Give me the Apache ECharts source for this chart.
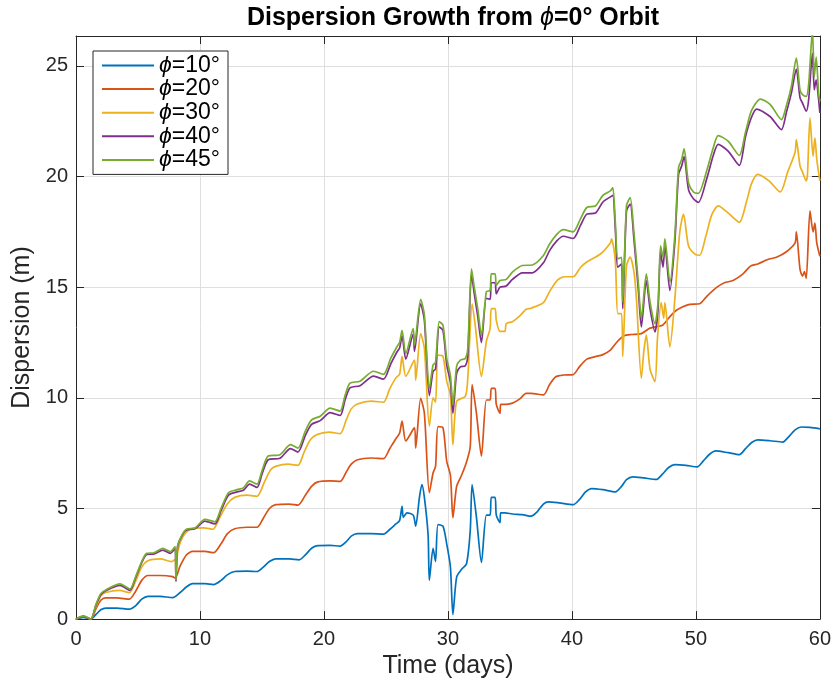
<!DOCTYPE html>
<html>
<head>
<meta charset="utf-8">
<script src="https://cdn.jsdelivr.net/npm/echarts@6/dist/echarts.min.js"></script>
<style>
html,body{margin:0;padding:0;background:#fff;}
#chart{width:834px;height:684px;}
</style>
</head>
<body>
<div id="chart"></div>
<script>
const titleText = 'Dispersion Growth from ϕ=0° Orbit';
const xName = 'Time (days)';
const yName = 'Dispersion (m)';
const seriesNames = ['ϕ=10°', 'ϕ=20°', 'ϕ=30°', 'ϕ=40°', 'ϕ=45°'];
const seriesColors = ['#0072BD', '#D95319', '#EDB120', '#7E2F8E', '#77AC30'];

const phi10 = [[0,0],[0.6,0.08],[1.2,0],[1.6,0.2],[2.0,0.42],[2.4,0.5],[3.3,0.5],[4.3,0.45],[4.8,0.6],[5.3,0.9],[5.8,1.03],[6.8,1.03],[7.8,0.97],[8.4,1.2],[8.9,1.45],[9.4,1.6],[10.4,1.6],[11.1,1.56],[11.7,1.75],[12.2,2.0],[12.8,2.15],[13.8,2.17],[14.6,2.15],[15.1,2.35],[15.6,2.6],[16.1,2.72],[17.2,2.72],[18.0,2.68],[18.5,2.9],[19.0,3.2],[19.5,3.32],[20.5,3.33],[21.3,3.3],[21.8,3.5],[22.2,3.75],[22.7,3.86],[23.8,3.86],[24.8,3.84],[25.3,4.05],[25.8,4.3],[26.1,4.45],[26.3,5.1],[26.4,4.6],[26.7,4.8],[27.2,4.7],[27.4,4.2],[27.7,5.5],[27.9,6.08],[28.1,5.5],[28.4,3.8],[28.5,1.75],[28.8,3.2],[29.0,2.6],[29.2,4.27],[29.6,4.2],[29.9,3.4],[30.2,2.35],[30.4,0.2],[30.7,1.9],[31.1,2.25],[31.5,2.5],[31.8,4.0],[31.95,6.08],[32.3,4.6],[32.7,2.56],[33.1,4.7],[33.4,4.7],[33.5,5.5],[33.8,5.5],[33.9,4.7],[34.2,4.36],[34.25,4.8],[34.6,4.8],[35.2,4.75],[36.0,4.72],[36.7,4.65],[37.2,4.85],[37.7,5.2],[38.1,5.3],[39.0,5.25],[40.1,5.17],[40.6,5.4],[41.1,5.75],[41.6,5.9],[42.5,5.85],[43.5,5.75],[44.0,6.0],[44.4,6.3],[44.9,6.43],[45.8,6.38],[46.8,6.31],[47.3,6.55],[47.8,6.85],[48.3,6.98],[49.2,6.95],[50.1,6.88],[50.6,7.15],[51.1,7.45],[51.6,7.6],[52.6,7.52],[53.5,7.43],[54.0,7.7],[54.5,7.98],[55.0,8.1],[56.0,8.06],[57.0,8.0],[57.5,8.25],[58.0,8.55],[58.5,8.68],[59.2,8.66],[60,8.6]];

const phi20 = [[0,0],[0.6,0.12],[1.2,0],[1.6,0.45],[2.0,0.85],[2.4,0.96],[3.3,0.96],[4.3,0.9],[4.8,1.25],[5.3,1.75],[5.8,1.97],[6.8,1.97],[7.8,1.92],[8.0,1.85],[8.4,2.4],[8.9,2.9],[9.4,3.06],[10.4,3.06],[11.1,3.0],[11.7,3.4],[12.2,3.85],[12.8,4.08],[13.8,4.15],[14.6,4.15],[15.1,4.55],[15.6,5.0],[16.1,5.17],[17.2,5.2],[17.9,5.15],[18.5,5.6],[19.0,6.0],[19.5,6.2],[20.5,6.25],[21.3,6.22],[21.8,6.65],[22.2,7.0],[22.7,7.2],[23.8,7.28],[24.8,7.25],[25.3,7.7],[25.8,8.15],[26.1,8.4],[26.3,8.95],[26.6,8.05],[27.3,8.65],[27.4,7.73],[27.8,9.98],[28.1,9.3],[28.5,5.71],[28.8,6.6],[29.0,6.9],[29.2,8.7],[29.6,8.65],[29.9,7.14],[30.2,6.5],[30.4,4.58],[30.7,6.0],[31.1,6.5],[31.5,7.1],[31.8,7.8],[31.95,10.6],[32.3,9.3],[32.7,7.36],[33.1,9.9],[33.4,9.9],[33.5,10.43],[33.8,10.43],[33.9,9.7],[34.2,9.3],[34.25,9.7],[34.6,9.7],[35.2,9.76],[35.8,9.95],[36.3,10.2],[36.7,10.2],[37.7,10.13],[38.2,10.6],[38.7,10.95],[39.3,11.03],[40.1,11.05],[40.6,11.4],[41.2,11.75],[41.8,11.85],[42.5,11.95],[43.1,12.15],[43.6,12.5],[44.2,12.8],[44.8,12.86],[45.6,12.9],[46.3,13.15],[47.3,13.28],[47.8,13.6],[48.3,13.9],[48.9,14.1],[49.5,14.22],[50.3,14.25],[50.9,14.6],[51.7,15.0],[52.3,15.2],[53.0,15.3],[53.8,15.6],[54.4,15.95],[55.0,16.05],[55.8,16.25],[56.5,16.35],[57.3,16.6],[58.0,17.0],[58.1,17.5],[58.4,15.8],[58.6,15.5],[58.75,15.7],[58.9,15.4],[59.2,18.45],[59.45,17.5],[59.6,17.9],[59.75,17.0],[60,16.4]];

const phi30 = [[0,0],[0.6,0.12],[1.2,0],[1.6,0.55],[2.0,1.05],[2.4,1.2],[3.5,1.3],[4.3,1.2],[4.8,1.7],[5.3,2.35],[5.8,2.64],[6.8,2.72],[7.7,2.6],[8.0,2.7],[8.06,2.0],[8.2,3.0],[8.6,3.7],[9.2,4.06],[10.3,4.12],[11.05,4.06],[11.6,4.6],[12.2,5.2],[12.8,5.5],[13.8,5.6],[14.6,5.55],[15.2,6.2],[15.7,6.75],[16.1,6.9],[17.1,7.0],[17.9,6.95],[18.4,7.55],[18.9,8.1],[19.4,8.33],[20.4,8.45],[21.3,8.38],[21.8,9.0],[22.2,9.5],[22.7,9.72],[23.8,9.85],[24.8,9.8],[25.3,10.4],[25.8,10.9],[26.1,11.06],[26.3,11.87],[26.6,10.97],[27.3,11.7],[27.4,10.8],[27.8,12.9],[28.1,12.23],[28.5,8.72],[28.8,10.0],[29.0,9.8],[29.2,11.93],[29.6,11.87],[29.9,10.75],[30.2,10.13],[30.4,7.88],[30.7,9.84],[31.4,10.07],[31.6,10.88],[31.95,14.25],[32.2,13.28],[32.7,10.97],[33.1,12.55],[33.4,13.13],[33.5,14.03],[33.8,14.03],[33.9,13.5],[34.2,13.0],[34.6,13.0],[34.7,13.35],[35.2,13.44],[35.8,13.7],[36.3,14.0],[36.7,14.05],[37.7,14.3],[38.2,14.8],[38.8,15.3],[39.4,15.47],[40.1,15.47],[40.7,15.9],[41.2,16.14],[42.3,16.5],[43.1,17.0],[43.2,17.18],[43.5,16.2],[43.7,13.8],[44.0,13.8],[44.1,11.87],[44.4,15.95],[44.7,16.36],[45.0,15.7],[45.2,14.5],[45.6,10.88],[45.8,12.1],[46.0,12.83],[46.3,11.3],[46.7,10.73],[46.9,12.7],[47.2,14.3],[47.4,13.6],[47.5,14.3],[47.9,12.3],[48.3,14.45],[48.7,17.5],[49.0,18.3],[49.4,16.87],[49.9,16.5],[50.3,16.43],[50.8,17.3],[51.3,18.3],[51.8,18.67],[52.5,18.4],[53.5,17.93],[54.1,18.9],[54.5,19.7],[55.0,20.1],[55.9,19.8],[56.8,19.3],[57.4,20.2],[58.0,21.1],[58.1,21.67],[58.4,20.47],[58.6,20.2],[58.9,19.8],[59.0,20.1],[59.2,22.65],[59.45,20.92],[59.6,21.75],[59.75,20.77],[60,19.8]];

const phi40 = [[0,0],[0.6,0.12],[1.2,0],[1.6,0.62],[2.0,1.1],[2.4,1.28],[3.55,1.52],[4.35,1.3],[4.8,1.85],[5.3,2.55],[5.7,2.92],[6.3,2.95],[7.0,3.12],[7.6,2.97],[8.0,3.2],[8.06,1.7],[8.2,3.3],[8.6,3.82],[8.9,4.02],[9.6,4.08],[10.4,4.43],[11.2,4.3],[11.7,4.9],[12.3,5.6],[13.0,5.75],[13.5,5.82],[14.0,6.1],[14.6,5.95],[15.0,6.55],[15.5,7.2],[16.45,7.27],[17.3,7.7],[17.9,7.55],[18.5,8.3],[19.0,8.8],[19.7,8.97],[20.5,9.33],[21.3,9.2],[21.7,9.9],[22.1,10.45],[22.9,10.55],[24.0,10.98],[24.8,10.84],[25.4,11.55],[25.9,12.08],[26.1,12.25],[26.3,12.8],[26.6,11.75],[27.2,12.88],[27.3,12.1],[27.8,14.25],[28.1,13.5],[28.5,10.1],[28.8,11.2],[29.0,11.3],[29.3,13.2],[29.6,13.05],[29.9,11.5],[30.2,10.7],[30.4,9.3],[30.7,11.1],[31.0,11.4],[31.4,11.45],[31.6,11.9],[31.9,15.6],[32.1,14.8],[32.4,13.7],[32.7,12.5],[33.1,14.5],[33.4,14.45],[33.5,15.2],[33.8,15.2],[33.9,14.7],[34.2,15.0],[34.7,15.05],[35.2,15.35],[36.0,15.65],[36.8,15.65],[37.7,16.1],[38.2,16.65],[38.8,17.1],[39.3,17.3],[40.1,17.2],[40.7,17.8],[41.2,18.3],[41.9,18.35],[42.5,18.85],[43.1,19.08],[43.3,19.15],[43.5,17.63],[43.7,15.9],[44.0,16.05],[44.1,14.03],[44.4,18.45],[44.7,18.75],[45.0,17.18],[45.35,14.93],[45.6,13.2],[46.0,15.3],[46.3,14.03],[46.7,12.98],[46.95,14.03],[47.15,16.58],[47.35,15.9],[47.5,16.87],[47.9,14.85],[48.3,17.03],[48.6,20.1],[48.85,20.47],[49.05,20.9],[49.4,19.42],[49.8,19.0],[50.2,18.83],[50.9,19.95],[51.4,20.95],[51.8,21.45],[52.6,21.15],[53.5,20.5],[54.0,21.8],[54.5,22.7],[54.9,23.05],[56.0,22.7],[56.9,22.12],[57.3,22.9],[57.7,23.77],[58.1,24.85],[58.4,23.55],[58.6,23.32],[58.9,22.95],[59.1,23.5],[59.4,25.57],[59.55,23.92],[59.7,24.37],[59.9,23.47],[60,22.87]];

const phi45 = [[0,0],[0.6,0.15],[1.2,0],[1.6,0.65],[2.0,1.15],[2.4,1.32],[3.55,1.59],[4.35,1.36],[4.8,1.9],[5.3,2.6],[5.7,2.97],[6.3,3.0],[7.0,3.2],[7.6,3.05],[8.0,3.28],[8.06,1.77],[8.2,3.33],[8.6,3.85],[8.9,4.06],[9.6,4.12],[10.4,4.51],[11.2,4.4],[11.7,5.0],[12.3,5.71],[13.0,5.85],[13.5,5.93],[14.0,6.25],[14.6,6.1],[15.0,6.7],[15.5,7.37],[16.45,7.43],[17.3,7.88],[17.9,7.73],[18.5,8.5],[19.0,9.0],[19.7,9.17],[20.5,9.53],[21.3,9.4],[21.7,10.1],[22.1,10.66],[22.9,10.75],[24.0,11.2],[24.8,11.06],[25.4,11.8],[25.9,12.32],[26.1,12.5],[26.3,13.05],[26.6,12.0],[27.2,13.13],[27.3,12.38],[27.8,14.45],[28.1,13.73],[28.5,10.43],[28.8,11.48],[29.0,11.6],[29.3,13.44],[29.6,13.28],[29.9,11.78],[30.2,11.0],[30.4,9.68],[30.7,11.42],[31.0,11.7],[31.4,11.78],[31.6,12.23],[31.9,15.83],[32.1,15.08],[32.4,14.03],[32.7,12.83],[33.1,14.8],[33.4,14.85],[33.5,15.6],[33.8,15.6],[33.9,15.08],[34.2,15.3],[34.7,15.35],[35.2,15.68],[36.0,15.98],[36.8,16.0],[37.7,16.43],[38.2,16.95],[38.8,17.4],[39.3,17.6],[40.1,17.5],[40.7,18.1],[41.2,18.6],[41.9,18.67],[42.5,19.15],[43.1,19.35],[43.3,19.5],[43.5,17.94],[43.7,16.28],[44.0,16.35],[44.1,14.33],[44.4,18.67],[44.7,19.05],[45.0,17.48],[45.35,15.23],[45.6,13.58],[46.0,15.6],[46.3,14.33],[46.7,13.35],[46.95,14.33],[47.15,16.87],[47.35,16.35],[47.5,17.18],[47.9,15.23],[48.3,17.32],[48.6,20.4],[48.85,20.77],[49.05,21.25],[49.4,19.72],[49.8,19.3],[50.2,19.24],[50.9,20.32],[51.4,21.3],[51.8,21.85],[52.6,21.6],[53.5,20.95],[54.0,22.0],[54.5,23.0],[55.2,23.5],[56.0,23.25],[56.9,22.57],[57.3,23.2],[57.7,24.07],[58.1,25.35],[58.4,23.9],[58.6,23.7],[58.9,23.62],[59.1,24.2],[59.4,26.6],[59.55,24.5],[59.7,25.4],[59.9,23.77],[60,23.4]];

const seriesData = [phi10, phi20, phi30, phi40, phi45];

const xMin = 0, xMax = 60, xStep = 10;
const yMin = 0, yMax = 26.35, yStep = 5;

const FONT = '"Liberation Sans", Helvetica, Arial, sans-serif';
const AX = '#262626';

const chart = echarts.init(document.getElementById('chart'), null, {renderer: 'canvas'});

function axisCommon(extra) {
  return Object.assign({
    type: 'value',
    axisLine: {show: true, onZero: false, lineStyle: {color: AX, width: 1}},
    axisTick: {show: true, inside: true, length: 8, lineStyle: {color: AX, width: 1}},
    splitLine: {show: false},
    axisLabel: {show: false}
  }, extra);
}

const option = {
  backgroundColor: '#ffffff',
  animation: false,
  title: {
    text: '{n|Dispersion Growth from }{p|ϕ}{n|=0° Orbit}',
    left: 448,
    top: 1,
    textAlign: 'center',
    textStyle: {
      rich: {
        n: {fontFamily: FONT, fontWeight: 'bold', fontSize: 25, color: '#000'},
        p: {fontFamily: FONT, fontStyle: 'italic', fontWeight: 'normal', fontSize: 25, color: '#000'}
      }
    }
  },
  grid: {left: 76, right: 14, top: 36, bottom: 62, containLabel: false},
  legend: {
    orient: 'vertical',
    left: 93,
    top: 51,
    icon: 'rect',
    itemWidth: 52,
    itemHeight: 2,
    itemGap: 0.6,
    padding: [3, 8, 3, 9],
    borderColor: AX,
    borderWidth: 1,
    backgroundColor: '#fff',
    data: seriesNames,
    formatter: function (name) { return '{p|ϕ}{n|' + name.slice(1) + '}'; },
    textStyle: {
      rich: {
        n: {fontFamily: FONT, fontSize: 23, lineHeight: 21, color: '#000'},
        p: {fontFamily: FONT, fontStyle: 'italic', fontSize: 23, lineHeight: 21, color: '#000'}
      }
    }
  },
  xAxis: [
    axisCommon({
      position: 'bottom', min: xMin, max: xMax, interval: xStep,
      name: xName, nameLocation: 'middle', nameGap: 31,
      nameTextStyle: {fontFamily: FONT, fontSize: 25, color: AX},
      axisLabel: {show: true, fontFamily: FONT, fontSize: 20, color: AX, margin: 10},
      splitLine: {show: true, lineStyle: {color: '#dfdfdf', width: 1}}
    }),
    axisCommon({position: 'top', min: xMin, max: xMax, interval: xStep})
  ],
  yAxis: [
    axisCommon({
      position: 'left', min: yMin, max: yMax, interval: yStep,
      name: yName, nameLocation: 'middle', nameGap: 34, nameRotate: 90,
      nameTextStyle: {fontFamily: FONT, fontSize: 25, color: AX},
      axisLabel: {show: true, fontFamily: FONT, fontSize: 20, color: AX, margin: 8, showMaxLabel: false},
      splitLine: {show: true, lineStyle: {color: '#dfdfdf', width: 1}}
    }),
    axisCommon({position: 'right', min: yMin, max: yMax, interval: yStep})
  ],
  series: seriesNames.map(function (nm, i) {
    return {
      name: nm,
      type: 'line',
      xAxisIndex: 0,
      yAxisIndex: 0,
      data: seriesData[i],
      showSymbol: false,
      symbol: 'none',
      smooth: 0.25,
      clip: true,
      lineStyle: {color: seriesColors[i], width: 1.7},
      itemStyle: {color: seriesColors[i]},
      z: 2 + i
    };
  })
};

chart.setOption(option);
</script>
</body>
</html>
